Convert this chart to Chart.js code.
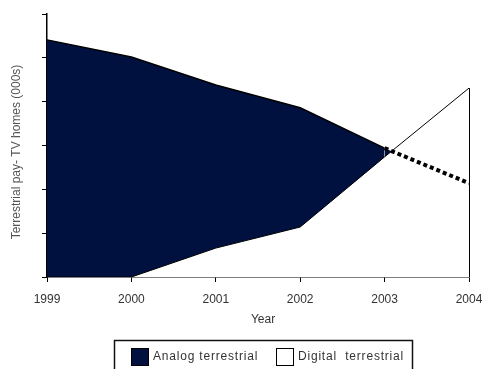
<!DOCTYPE html>
<html>
<head>
<meta charset="utf-8">
<script src="https://cdn.jsdelivr.net/npm/chart.js@4"></script>
<style>
  html, body { margin: 0; padding: 0; background: #fff; overflow: hidden; }
</style>
</head>
<body>
<canvas id="tvChart" width="485" height="369"></canvas>
<script>
// data (000s of homes, axis has no value labels)
const years = ['1999', '2000', '2001', '2002', '2003', '2004'];
const analog = [541, 502, 438, 386, 294, 214];
const digital = [0, 0, 66, 114, 274, 431];
const yMax = 600;
const yStep = 100;

const FONT = '"Liberation Sans", Arial, sans-serif';
const NAVY = '#00113f';

// closes the digital area on the right like the original
const areaEdge = {
  id: 'areaEdge',
  afterDatasetsDraw(chart) {
    const meta = chart.getDatasetMeta(1);
    const last = meta.data[meta.data.length - 1];
    const ctx = chart.ctx;
    ctx.save();
    ctx.strokeStyle = '#000';
    ctx.lineWidth = 1;
    ctx.beginPath();
    ctx.moveTo(Math.round(last.x) + 0.5, last.y);
    ctx.lineTo(Math.round(last.x) + 0.5, chart.scales.y.bottom);
    ctx.stroke();
    ctx.restore();
  }
};

// titles and boxed legend
const extras = {
  id: 'extras',
  afterDraw(chart) {
    const ctx = chart.ctx;
    ctx.save();
    ctx.font = '12px ' + FONT;
    ctx.fillStyle = '#555';
    ctx.textAlign = 'center';
    ctx.textBaseline = 'middle';
    ctx.save();
    ctx.translate(17, 152);
    ctx.rotate(-Math.PI / 2);
    ctx.fillText('Terrestrial pay- TV homes (000s)', 0, 0);
    ctx.restore();

    ctx.fillStyle = '#333';
    ctx.fillText('Year', 263, 320);

    // legend box
    ctx.strokeStyle = '#111';
    ctx.lineWidth = 1.5;
    ctx.strokeRect(114.5, 340.5, 298, 40);

    const items = chart.data.datasets;
    const boxes = [131, 276];
    ctx.textAlign = 'left';
    ctx.lineWidth = 1;
    ctx.letterSpacing = '0.8px';
    [0, 1].forEach(i => {
      const ds = items[i];
      ctx.fillStyle = ds.legendColor;
      ctx.fillRect(boxes[i] + 0.5, 348.5, 17, 17);
      ctx.strokeStyle = '#000';
      ctx.strokeRect(boxes[i] + 0.5, 348.5, 17, 17);
      ctx.fillStyle = '#333';
      ctx.fillText(ds.label, boxes[i] + 22, 357);
    });
    ctx.restore();
  }
};

const ctx = document.getElementById('tvChart').getContext('2d');
const tvChart = new Chart(ctx, {
  type: 'line',
  data: {
    labels: years,
    datasets: [
      {
        label: 'Analog terrestrial',
        data: analog,
        order: 1,
        legendColor: NAVY,
        borderColor: '#000',
        borderWidth: 1.5,
        backgroundColor: NAVY,
        fill: 'origin',
        pointRadius: 0,
        tension: 0,
        segment: {
          borderDash: c => c.p0DataIndex === 4 ? [4, 3] : undefined,
          borderWidth: c => c.p0DataIndex === 4 ? 4 : undefined
        }
      },
      {
        label: 'Digital  terrestrial',
        data: digital,
        order: 0,
        legendColor: '#fff',
        borderColor: '#000',
        borderWidth: 1,
        backgroundColor: '#fff',
        fill: 'origin',
        pointRadius: 0,
        tension: 0
      }
    ]
  },
  options: {
    responsive: false,
    animation: false,
    layout: { padding: { top: 14, right: 16, left: 0, bottom: 0 } },
    plugins: {
      legend: { display: false },
      tooltip: { enabled: false },
      filler: { drawTime: 'beforeDatasetsDraw' }
    },
    scales: {
      x: {
        type: 'category',
        offset: false,
        grid: { drawOnChartArea: false, drawTicks: true, tickLength: 5, color: '#000' },
        border: { color: '#000', width: 1.5 },
        ticks: { color: '#333', font: { family: FONT, size: 12 }, padding: 10, maxRotation: 0 },
        afterFit: s => { s.height = 92; s.paddingLeft = 0; s.paddingRight = 0; }
      },
      y: {
        min: 0,
        max: yMax,
        grid: { drawOnChartArea: false, drawTicks: true, tickLength: 5, color: '#000' },
        border: { color: '#000', width: 1.5 },
        ticks: { stepSize: yStep, display: false },
        afterFit: s => { s.width = 47; }
      }
    }
  },
  plugins: [areaEdge, extras]
});
</script>
</body>
</html>
